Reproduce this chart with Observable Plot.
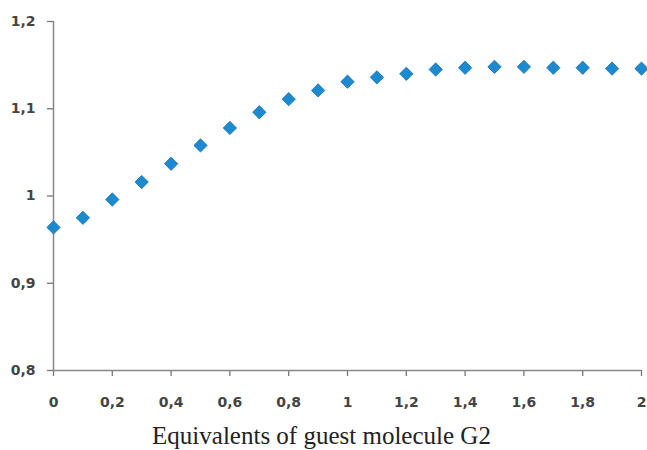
<!DOCTYPE html>
<html>
<head>
<meta charset="utf-8">
<script src="https://cdn.jsdelivr.net/npm/d3@7"></script>
<script src="https://cdn.jsdelivr.net/npm/@observablehq/plot@0.6"></script>
<style>
  html, body { margin: 0; padding: 0; background: #fff; }
  svg { display: block; }
</style>
</head>
<body>
<div id="chart"></div>
<script>
const equivalents = [0, 0.1, 0.2, 0.3, 0.4, 0.5, 0.6, 0.7, 0.8, 0.9, 1.0, 1.1, 1.2, 1.3, 1.4, 1.5, 1.6, 1.7, 1.8, 1.9, 2.0];
const ratio = [0.964, 0.975, 0.996, 1.016, 1.037, 1.058, 1.078, 1.096, 1.111, 1.121, 1.131, 1.136, 1.140, 1.145, 1.147, 1.148, 1.148, 1.147, 1.147, 1.146, 1.146];
const xTicks = [0, 0.2, 0.4, 0.6, 0.8, 1, 1.2, 1.4, 1.6, 1.8, 2];
const yTicks = [0.8, 0.9, 1.0, 1.1, 1.2];
const xTitle = "Equivalents of guest molecule G2";

const data = equivalents.map((x, i) => ({x, y: ratio[i]}));
const fmt = d => String(+d.toFixed(1)).replace(".", ",");

const chart = Plot.plot({
  width: 647,
  height: 450,
  marginLeft: 53,
  marginRight: 6,
  marginTop: 21,
  marginBottom: 80,
  style: {background: "#fff", color: "#333"},
  x: {domain: [0, 2]},
  y: {domain: [0.8, 1.2]},
  marks: [
    Plot.axisY({ticks: yTicks, tickFormat: fmt, tickSize: 6, tickPadding: 12, label: null,
      fontSize: 14, fontFamily: "DejaVu Sans", fontWeight: "bold", fill: "#444", stroke: "#777", strokeWidth: 1.3}),
    Plot.axisX({ticks: xTicks, tickFormat: fmt, tickSize: 6, tickPadding: 21, label: null,
      fontSize: 14, fontFamily: "DejaVu Sans", fontWeight: "bold", fill: "#444", stroke: "#777", strokeWidth: 1.3}),
    Plot.ruleY([0.8], {stroke: "#888", strokeWidth: 1.5}),
    Plot.ruleX([0], {stroke: "#888", strokeWidth: 1.5}),
    Plot.dot(data, {x: "x", y: "y", symbol: "diamond2", r: 6, fill: "#1b8ad0", stroke: "#1a6ea8", strokeWidth: 0.8}),
    Plot.text([xTitle], {frameAnchor: "bottom", dx: -26, dy: 73, fontSize: 25,
      fontFamily: "Liberation Serif", fill: "#222", text: d => d})
  ]
});
document.getElementById("chart").append(chart);
</script>
</body>
</html>
